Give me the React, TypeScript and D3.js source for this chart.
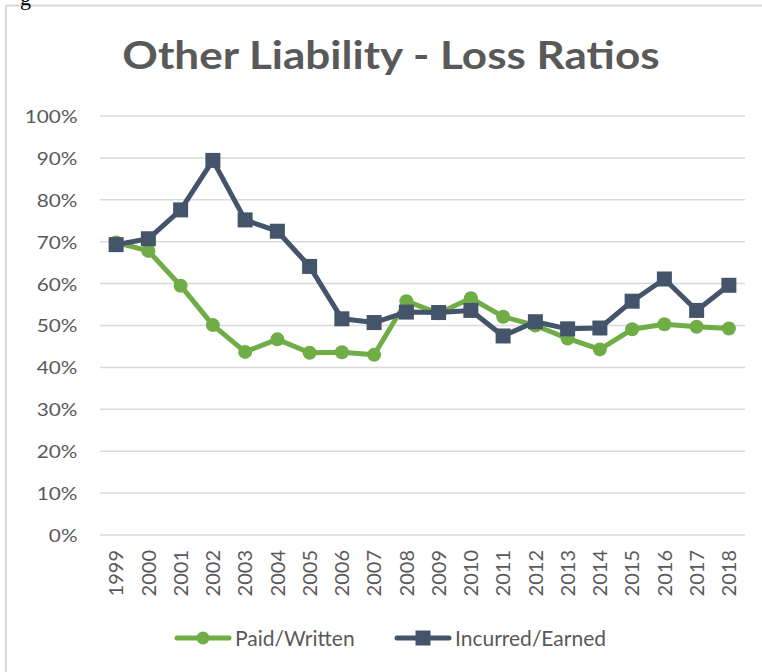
import React, { useEffect, useRef } from 'react';
import * as d3 from 'd3';

const years = [
  '1999', '2000', '2001', '2002', '2003', '2004', '2005', '2006', '2007', '2008',
  '2009', '2010', '2011', '2012', '2013', '2014', '2015', '2016', '2017', '2018',
];

const paidWritten = [
  69.8, 67.8, 59.5, 50.1, 43.7, 46.7, 43.5, 43.6, 43.0, 55.8,
  52.9, 56.5, 52.1, 50.0, 46.9, 44.3, 49.1, 50.3, 49.7, 49.3,
];

const incurredEarned = [
  69.3, 70.7, 77.6, 89.4, 75.2, 72.5, 64.1, 51.6, 50.7, 53.2,
  53.1, 53.6, 47.5, 50.9, 49.2, 49.4, 55.8, 61.1, 53.6, 59.6,
];

const yTicks = [0, 10, 20, 30, 40, 50, 60, 70, 80, 90, 100];

const seriesNames = ['Paid/Written', 'Incurred/Earned'];
const seriesColors = ['#70AD47', '#44546A'];

const W = 762;
const H = 672;
const FONT = 'Lato, "Open Sans", sans-serif';
const TEXT = '#595959';

const Chart = () => {
  const ref = useRef<SVGSVGElement>(null);

  const graph = () => {
    const svg = d3.select(ref.current);
    svg.selectAll('*').remove();

    const left = 100,
      right = 745,
      top = 116,
      bottom = 535;

    const x = d3.scaleBand().domain(years).range([left, right]);
    const y = d3.scaleLinear().domain([0, 100]).range([bottom, top]);

    // frame of the chart box, cropped from a page
    svg
      .append('path')
      .attr('d', `M6,${H} V5.5 H${W}`)
      .attr('fill', 'none')
      .attr('stroke', '#d9d9d9')
      .attr('stroke-width', 2);

    svg
      .append('text')
      .attr('x', 20)
      .attr('y', 5)
      .attr('font-family', 'serif')
      .attr('font-size', 22)
      .attr('fill', '#000')
      .text('g');

    // title, stretched a little horizontally like the source
    svg
      .append('text')
      .attr('transform', 'translate(391,69) scale(1.13,1)')
      .attr('text-anchor', 'middle')
      .attr('font-family', FONT)
      .attr('font-weight', 'bold')
      .attr('font-size', 39)
      .attr('fill', TEXT)
      .text('Other Liability - Loss Ratios');

    // gridlines
    svg
      .append('g')
      .selectAll('line')
      .data(yTicks)
      .join('line')
      .attr('x1', left)
      .attr('x2', right)
      .attr('y1', (d) => y(d))
      .attr('y2', (d) => y(d))
      .attr('stroke', '#d9d9d9')
      .attr('stroke-width', 1.5);

    const yAxis = svg
      .append('g')
      .attr('transform', `translate(${left - 22.5},0)`)
      .call(
        d3
          .axisLeft(y)
          .tickValues(yTicks)
          .tickSize(0)
          .tickPadding(0)
          .tickFormat((d) => `${d}%`)
      );
    yAxis.select('.domain').remove();
    yAxis
      .selectAll('.tick text')
      .attr('font-family', FONT)
      .attr('font-size', 17)
      .attr('fill', TEXT)
      .attr('x', 0)
      .attr('dy', '0.38em')
      .attr('transform', 'scale(1.22,1)');

    const xAxis = svg
      .append('g')
      .attr('transform', `translate(0,${bottom})`)
      .call(d3.axisBottom(x).tickSize(0));
    xAxis.select('.domain').remove();
    xAxis
      .selectAll('text')
      .attr('font-family', FONT)
      .attr('font-size', 20)
      .attr('fill', TEXT)
      .attr('text-anchor', 'end')
      .attr('transform', 'rotate(-90)')
      .attr('x', -15)
      .attr('y', 0)
      .attr('dy', '0.36em');

    const cx = (i: number) => (x(years[i]) as number) + x.bandwidth() / 2;
    const line = d3
      .line<number>()
      .x((d, i) => cx(i))
      .y((d) => y(d));

    // paid/written
    svg
      .append('path')
      .datum(paidWritten)
      .attr('fill', 'none')
      .attr('stroke', seriesColors[0])
      .attr('stroke-width', 5)
      .attr('stroke-linejoin', 'round')
      .attr('d', line);
    svg
      .append('g')
      .selectAll('circle')
      .data(paidWritten)
      .join('circle')
      .attr('cx', (d, i) => cx(i))
      .attr('cy', (d) => y(d))
      .attr('r', 7)
      .attr('fill', seriesColors[0]);

    // incurred/earned
    svg
      .append('path')
      .datum(incurredEarned)
      .attr('fill', 'none')
      .attr('stroke', seriesColors[1])
      .attr('stroke-width', 5)
      .attr('stroke-linejoin', 'round')
      .attr('d', line);
    svg
      .append('g')
      .selectAll('rect')
      .data(incurredEarned)
      .join('rect')
      .attr('x', (d, i) => cx(i) - 7.5)
      .attr('y', (d) => y(d) - 7.5)
      .attr('width', 15)
      .attr('height', 15)
      .attr('fill', seriesColors[1]);

    // legend
    const legendY = 638;
    const legendX = [177, 397];
    seriesNames.forEach((name, i) => {
      const g = svg.append('g').attr('transform', `translate(${legendX[i]},${legendY})`);
      g.append('line')
        .attr('x1', 0)
        .attr('x2', 52)
        .attr('stroke', seriesColors[i])
        .attr('stroke-width', 5)
        .attr('stroke-linecap', 'round');
      if (i === 0) {
        g.append('circle').attr('cx', 26).attr('r', 6.5).attr('fill', seriesColors[i]);
      } else {
        g.append('rect')
          .attr('x', 18.5)
          .attr('y', -7.5)
          .attr('width', 15)
          .attr('height', 15)
          .attr('fill', seriesColors[i]);
      }
      g.append('text')
        .attr('x', 58)
        .attr('dy', '0.36em')
        .attr('font-family', FONT)
        .attr('font-size', 21)
        .attr('fill', TEXT)
        .text(name);
    });
  };

  // eslint-disable-next-line
  useEffect(() => graph(), []);

  return (
    <svg
      ref={ref}
      width={W}
      height={H}
      style={{ position: 'absolute', left: 0, top: 0, background: '#fff' }}></svg>
  );
};

export default function App() {
  return <Chart />;
}
